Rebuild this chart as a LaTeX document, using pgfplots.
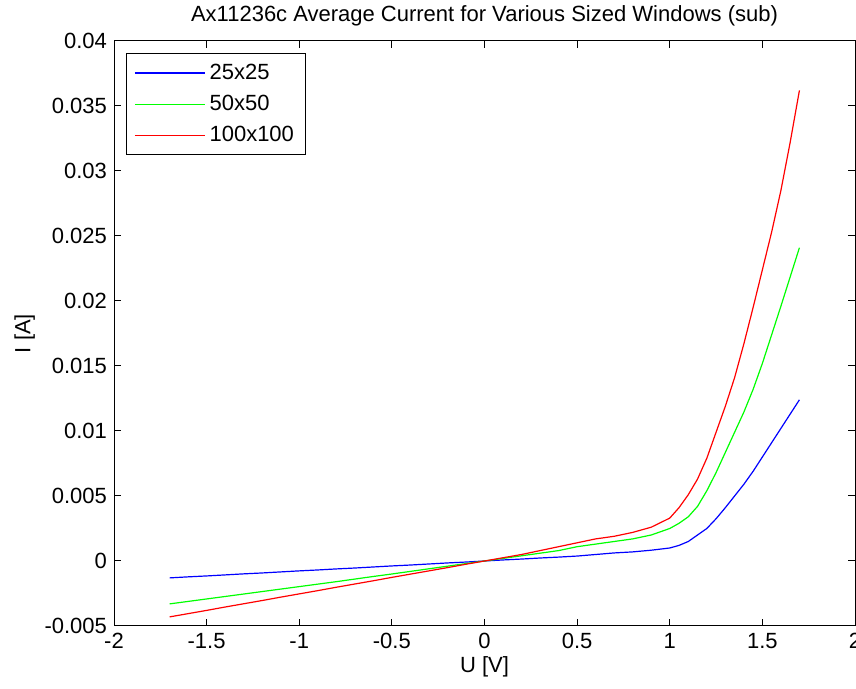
\documentclass[border=0pt]{standalone}
\usepackage{fontspec}
\setmainfont{Liberation Sans}
\usepackage{pgfplots}
\pgfplotsset{compat=1.18}

\begin{document}
\begin{tikzpicture}
\begin{axis}[
    name=ax,
    scale only axis,
    width=370.5pt,
    height=292.5pt,
    xmin=-2, xmax=2,
    ymin=-0.005, ymax=0.04,
    xtick={-2,-1.5,...,2},
    ytick={-0.005,0,0.005,0.01,0.015,0.02,0.025,0.03,0.035,0.04},
    scaled y ticks=false,
    yticklabel style={/pgf/number format/fixed, /pgf/number format/precision=3},
    /pgf/number format/assume math mode=true,
    tick align=inside,
    major tick length=3.5pt,
    tick style={black, line width=0.5pt},
    axis line style={line width=0.5pt},
    every axis plot/.append style={line width=0.6pt},
    font=\fontsize{11}{13}\selectfont,
    title={Ax11236c Average Current for Various Sized Windows (sub)},
    title style={yshift=-2pt},
    xlabel={U [V]},
    ylabel={I [A]},
    xlabel style={yshift=3pt},
    ylabel style={yshift=-2pt},
    legend cell align=left,
    legend style={at={(rel axis cs:0.016,0.979)}, anchor=north west,
        draw=black, line width=0.5pt, inner xsep=4pt, inner ysep=3pt,
        row sep=2.5pt, font=\fontsize{11}{13}\selectfont},
    legend image code/.code={\draw[#1, line width=0.6pt] (0pt,0pt) -- (35pt,0pt);},
]

% 25x25
\addplot[blue] coordinates {
    (-1.7,-0.00130) (-1.6,-0.00122) (-1.5,-0.00115) (-1.4,-0.00107)
    (-1.3,-0.00099) (-1.2,-0.00092) (-1.1,-0.00084) (-1.0,-0.00076)
    (-0.9,-0.00069) (-0.8,-0.00061) (-0.7,-0.00054) (-0.6,-0.00046)
    (-0.5,-0.00038) (-0.4,-0.00031) (-0.3,-0.00023) (-0.2,-0.00015)
    (-0.1,-0.00008) (0,0) (0.1,0.00008) (0.2,0.00015) (0.3,0.00023)
    (0.4,0.00030) (0.5,0.00038) (0.6,0.00050) (0.7,0.00062)
    (0.8,0.00070) (0.9,0.00083) (1.0,0.00100) (1.05,0.00120)
    (1.1,0.00150) (1.15,0.00200) (1.2,0.00250) (1.25,0.00325)
    (1.3,0.00410) (1.35,0.00500) (1.4,0.00590) (1.45,0.00690)
    (1.5,0.00800) (1.55,0.00910) (1.6,0.01020) (1.65,0.01130)
    (1.7,0.01240)
};

% 50x50
\addplot[green] coordinates {
    (-1.7,-0.00330) (-1.6,-0.00311) (-1.5,-0.00292) (-1.4,-0.00273)
    (-1.3,-0.00254) (-1.2,-0.00235) (-1.1,-0.00216) (-1.0,-0.00197)
    (-0.9,-0.00178) (-0.8,-0.00159) (-0.7,-0.00139) (-0.6,-0.00119)
    (-0.5,-0.00100) (-0.4,-0.00080) (-0.3,-0.00060) (-0.2,-0.00040)
    (-0.1,-0.00020) (0,0) (0.1,0.00020) (0.2,0.00040) (0.3,0.00060)
    (0.4,0.00080) (0.5,0.00110) (0.6,0.00130) (0.7,0.00150)
    (0.8,0.00170) (0.9,0.00200) (1.0,0.00250) (1.05,0.00290)
    (1.1,0.00340) (1.15,0.00420) (1.2,0.00540) (1.25,0.00680)
    (1.3,0.00835) (1.35,0.00990) (1.4,0.01145) (1.45,0.01320)
    (1.5,0.01520) (1.55,0.01740) (1.6,0.01960) (1.65,0.02185)
    (1.7,0.02410)
};

% 100x100
\addplot[red] coordinates {
    (-1.7,-0.00430) (-1.6,-0.00405) (-1.5,-0.00380) (-1.4,-0.00354)
    (-1.3,-0.00329) (-1.2,-0.00304) (-1.1,-0.00278) (-1.0,-0.00253)
    (-0.9,-0.00228) (-0.8,-0.00202) (-0.7,-0.00177) (-0.6,-0.00152)
    (-0.5,-0.00126) (-0.4,-0.00101) (-0.3,-0.00076) (-0.2,-0.00051)
    (-0.1,-0.00025) (0,0) (0.1,0.00025) (0.2,0.00050) (0.3,0.00080)
    (0.4,0.00110) (0.5,0.00140) (0.6,0.00170) (0.7,0.00190)
    (0.8,0.00220) (0.9,0.00260) (1.0,0.00330) (1.05,0.00410)
    (1.1,0.00510) (1.15,0.00630) (1.2,0.00790) (1.25,0.00990)
    (1.3,0.01190) (1.35,0.01410) (1.4,0.01670) (1.45,0.01950)
    (1.5,0.02240) (1.55,0.02530) (1.6,0.02850) (1.65,0.03220)
    (1.7,0.03620)
};

\legend{25x25, 50x50, 100x100}
\end{axis}
\pgfresetboundingbox
\useasboundingbox ([xshift=-57pt,yshift=-31.5pt]ax.south west) rectangle ([xshift=0.5pt,yshift=20.5pt]ax.north east);
\end{tikzpicture}
\end{document}
